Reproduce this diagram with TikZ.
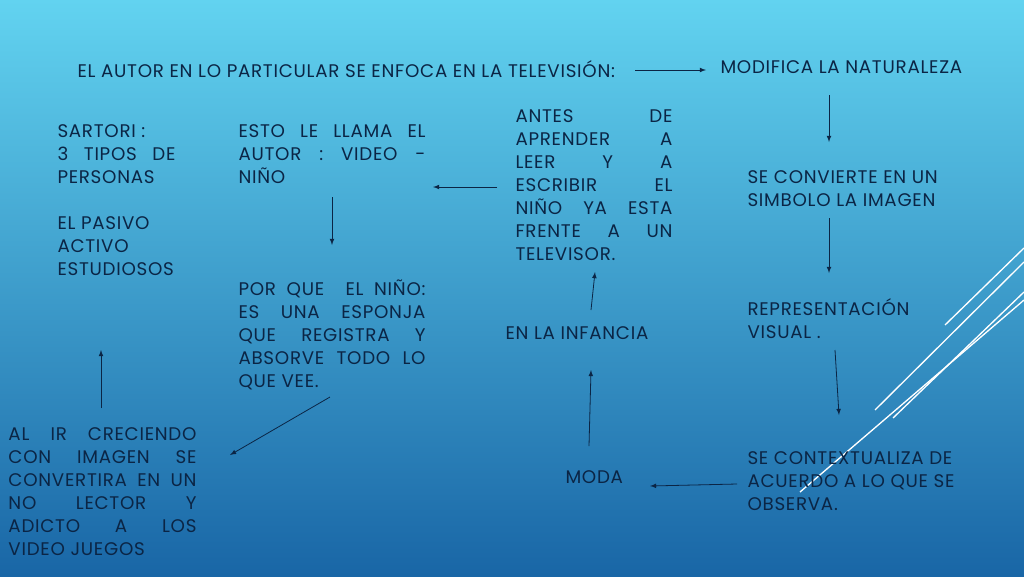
\documentclass[tikz,border=0pt]{standalone}
\usepackage{fontspec}
\setmainfont{Poppins}[LetterSpace=4]
\usetikzlibrary{positioning}
\definecolor{ink}{HTML}{0B2545}
\definecolor{topblue}{HTML}{62D3F0}
\definecolor{botblue}{HTML}{1966A6}
\tikzset{every picture/.style={line width=0.75pt}}
\tikzset{
  txt/.style={anchor=north west,inner sep=0pt,text=ink,font=\fontsize{13.7}{17.3}\selectfont},
  blk/.style={txt,align=justify},
  arr/.style={-latex,draw=ink,line width=0.6pt},
  deco/.style={draw=white,line width=1pt}
}
\begin{document}
\begin{tikzpicture}[x=0.75pt,y=0.75pt,yscale=-1,xscale=1]
	%background
	\shade[top color=topblue,bottom color=botblue] (0,0) rectangle (1024,576);
	\useasboundingbox (0,0) rectangle (1024,576);

	%decorative lines
	\draw[deco] (875,410) -- (1024,262) ;
	\draw[deco] (945,325) -- (1024,248) ;
	\draw[deco] (893,418) -- (1024,292) ;
	\draw[deco] (800,492) -- (1024,300) ;

	% Text Nodes
	\node[txt] (titulo) at (77,60) {EL AUTOR EN LO PARTICULAR SE ENFOCA EN LA TELEVISIÓN:};
	\node[txt] (modifica) at (720,60) {MODIFICA LA NATURALEZA};
	\node[blk,text width=118*0.75pt] (sartori) at (57,124) {SARTORI :\\3 TIPOS DE\linebreak PERSONAS\\[17.3pt]EL PASIVO\\ACTIVO\\ESTUDIOSOS};
	\node[blk,text width=187*0.75pt] (esto) at (238,124) {ESTO LE LLAMA EL\linebreak AUTOR : VIDEO -\linebreak NIÑO};
	\node[blk,text width=157*0.75pt] (antes) at (515,109) {ANTES DE\linebreak APRENDER A\linebreak LEER Y A\linebreak ESCRIBIR EL\linebreak NIÑO YA ESTA\linebreak FRENTE A UN\linebreak TELEVISOR.};
	\node[txt,align=left] (convierte) at (747,170) {SE CONVIERTE EN UN\\SIMBOLO LA IMAGEN};
	\node[blk,text width=187*0.75pt] (porque) at (238,279) {POR QUE \ EL NIÑO:\linebreak ES UNA ESPONJA\linebreak QUE REGISTRA Y\linebreak ABSORVE TODO LO\linebreak QUE VEE.};
	\node[txt] (infancia) at (505,326) {EN LA INFANCIA};
	\node[txt,align=left] (visual) at (747,298) {REPRESENTACIÓN\\VISUAL .};
	\node[blk,text width=188*0.75pt] (creciendo) at (8,427) {AL IR CRECIENDO\linebreak CON IMAGEN SE\linebreak CONVERTIRA EN UN\linebreak NO LECTOR Y\linebreak ADICTO A LOS\linebreak VIDEO JUEGOS};
	\node[txt] (moda) at (565,470) {MODA};
	\node[txt,align=left] (contexto) at (747,451) {SE CONTEXTUALIZA DE\\ACUERDO A LO QUE SE\\OBSERVA.};

	% Connector ends
	\coordinate (c1) at (635,70); \coordinate (c2) at (706,70);
	\coordinate (c3) at (829,95); \coordinate (c4) at (829,142);
	\coordinate (c5) at (829,218); \coordinate (c6) at (829,273);
	\coordinate (c7) at (835,350); \coordinate (c8) at (839,415);
	\coordinate (c9) at (737,484); \coordinate (c10) at (650,486);
	\coordinate (c11) at (589,446); \coordinate (c12) at (591,370);
	\coordinate (c13) at (591,310); \coordinate (c14) at (595,272);
	\coordinate (c15) at (497,187); \coordinate (c16) at (433,187);
	\coordinate (c17) at (332,197); \coordinate (c18) at (332,245);
	\coordinate (c19) at (330,397); \coordinate (c20) at (230,455);
	\coordinate (c21) at (101,408); \coordinate (c22) at (101,350);

	% Connectors
	\draw[arr] (c1) -- (c2) ;
	\draw[arr] (c3) -- (c4) ;
	\draw[arr] (c5) -- (c6) ;
	\draw[arr] (c7) -- (c8) ;
	\draw[arr] (c9) -- (c10) ;
	\draw[arr] (c11) -- (c12) ;
	\draw[arr] (c13) -- (c14) ;
	\draw[arr] (c15) -- (c16) ;
	\draw[arr] (c17) -- (c18) ;
	\draw[arr] (c19) -- (c20) ;
	\draw[arr] (c21) -- (c22) ;
\end{tikzpicture}
\end{document}
